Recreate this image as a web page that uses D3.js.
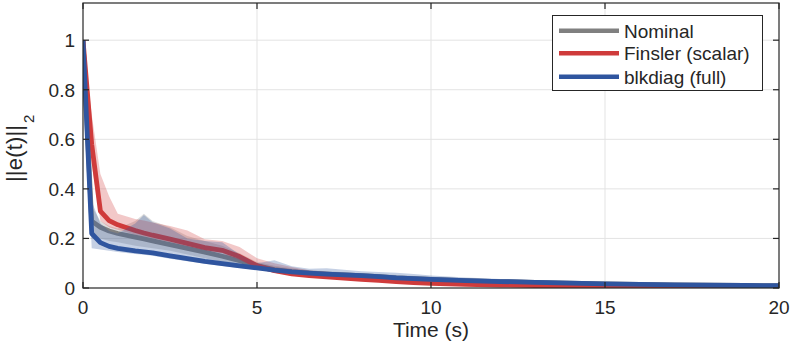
<!DOCTYPE html>
<html><head><meta charset="utf-8">
<script src="https://cdn.jsdelivr.net/npm/d3@7"></script>
<style>
html,body{margin:0;padding:0;background:#fff;}
text{font-family:"Liberation Sans",Arial,Helvetica,sans-serif;fill:#262626;}
</style></head>
<body>
<svg id="chart" width="793" height="349"></svg>
<script>
const time = [0,0.25,0.5,0.75,1,1.5,1.75,2,2.5,3,3.5,4,4.5,5,5.5,6,6.5,7,7.5,8,8.5,9,9.5,10,11,12,13,14,15,16,17,18,19,20];

const nominalMean = [1,.27,.245,.23,.22,.205,.198,.19,.175,.16,.145,.128,.11,.09,.074,.066,.06,.056,.053,.05,.046,.041,.038,.035,.03,.026,.023,.02,.017,.015,.013,.011,.01,.009];
const nominalLow  = [1,.2,.2,.19,.185,.17,.165,.16,.15,.135,.12,.105,.09,.078,.066,.059,.054,.05,.047,.044,.041,.037,.034,.031,.027,.023,.02,.017,.015,.013,.011,.009,.008,.007];
const nominalHigh = [1,.33,.27,.25,.24,.27,.30,.27,.245,.21,.19,.17,.14,.105,.09,.08,.072,.068,.064,.06,.056,.052,.048,.045,.038,.033,.029,.025,.022,.019,.017,.015,.013,.012];

const finslerMean = [1,.58,.31,.272,.255,.232,.222,.213,.197,.18,.163,.152,.127,.09,.07,.057,.05,.045,.04,.035,.031,.026,.022,.019,.015,.012,.01,.008,.006,.005,.004,.004,.003,.003];
const finslerLow  = [1,.5,.27,.245,.235,.215,.208,.2,.185,.168,.152,.14,.112,.08,.062,.05,.044,.039,.034,.03,.026,.022,.019,.016,.012,.01,.008,.006,.005,.004,.003,.002,.002,.002];
const finslerHigh = [1,.7,.46,.37,.3,.278,.272,.264,.25,.232,.197,.19,.165,.12,.1,.085,.072,.066,.06,.054,.048,.043,.038,.034,.027,.022,.018,.015,.013,.011,.009,.008,.007,.006];

const blkdiagMean = [1,.22,.183,.168,.16,.15,.146,.142,.13,.119,.107,.098,.089,.081,.072,.065,.06,.056,.053,.05,.046,.041,.038,.035,.03,.026,.023,.02,.017,.015,.013,.011,.01,.009];
const blkdiagLow  = [1,.16,.155,.15,.145,.137,.134,.13,.118,.108,.098,.089,.081,.073,.066,.06,.055,.051,.048,.045,.042,.038,.035,.032,.027,.024,.021,.018,.015,.013,.011,.009,.008,.007];
const blkdiagHigh = [1,.35,.26,.23,.22,.26,.295,.265,.24,.2,.19,.185,.135,.1,.112,.088,.078,.08,.074,.068,.065,.062,.056,.05,.042,.036,.031,.027,.023,.02,.018,.016,.014,.012];

const seriesNames = ["Nominal","Finsler (scalar)","blkdiag (full)"];
const seriesColors = ["#808080","#cf3b3b","#2f559f"];
const xTicks = [0,5,10,15,20];
const yTicks = [0,0.2,0.4,0.6,0.8,1];
const yTickLabels = ["0","0.2","0.4","0.6","0.8","1"];

const series = [
  {name:seriesNames[0], color:seriesColors[0], mean:nominalMean, lo:nominalLow, hi:nominalHigh},
  {name:seriesNames[1], color:seriesColors[1], mean:finslerMean, lo:finslerLow, hi:finslerHigh},
  {name:seriesNames[2], color:seriesColors[2], mean:blkdiagMean, lo:blkdiagLow, hi:blkdiagHigh}
];

const svg = d3.select("#chart");
const m = {left:83, right:14, top:3, bottom:61};
const W = 793, H = 349;
const x = d3.scaleLinear().domain([0,20]).range([m.left, W-m.right]);
const y = d3.scaleLinear().domain([0,1.15]).range([H-m.bottom, m.top]);

svg.append("defs").append("clipPath").attr("id","clip")
  .append("rect").attr("x",x(0)).attr("y",y(1.15)).attr("width",x(20)-x(0)).attr("height",y(0)-y(1.15));

// grid
const grid = svg.append("g");
grid.selectAll(".gx").data(xTicks.slice(1,-1)).enter().append("line")
  .attr("x1",d=>x(d)).attr("x2",d=>x(d)).attr("y1",y(0)).attr("y2",y(1.15))
  .attr("stroke","#e3e3e3").attr("stroke-width",1);
grid.selectAll(".gy").data(yTicks.slice(1)).enter().append("line")
  .attr("x1",x(0)).attr("x2",x(20)).attr("y1",d=>y(d)).attr("y2",d=>y(d))
  .attr("stroke","#e3e3e3").attr("stroke-width",1);

const plot = svg.append("g").attr("clip-path","url(#clip)");
const area = d3.area().x((d,i)=>x(time[i])).y0(d=>y(d[0])).y1(d=>y(d[1]));
const line = d3.line().x((d,i)=>x(time[i])).y(d=>y(d));

series.forEach(s=>{
  const band = s.lo.map((v,i)=>[v,s.hi[i]]);
  plot.append("path").datum(band).attr("d",area)
    .attr("fill",s.color).attr("fill-opacity",0.28).attr("stroke","none");
  plot.append("path").datum(s.mean).attr("d",line)
    .attr("fill","none").attr("stroke",s.color).attr("stroke-width",4.8)
    .attr("stroke-linejoin","round");
});

// axes box
const axc = "#262626";
const ax = svg.append("g");
ax.append("rect").attr("x",x(0)).attr("y",y(1.15)).attr("width",x(20)-x(0)).attr("height",y(0)-y(1.15))
  .attr("fill","none").attr("stroke",axc).attr("stroke-width",1.2);
const tl = 6;
xTicks.forEach(t=>{
  ax.append("line").attr("x1",x(t)).attr("x2",x(t)).attr("y1",y(0)).attr("y2",y(0)-tl).attr("stroke",axc).attr("stroke-width",1.2);
  ax.append("line").attr("x1",x(t)).attr("x2",x(t)).attr("y1",y(1.15)).attr("y2",y(1.15)+tl).attr("stroke",axc).attr("stroke-width",1.2);
  ax.append("text").attr("x",x(t)).attr("y",y(0)+26).attr("text-anchor","middle")
    .attr("font-size",19).text(t);
});
yTicks.forEach((t,i)=>{
  ax.append("line").attr("x1",x(0)).attr("x2",x(0)+tl).attr("y1",y(t)).attr("y2",y(t)).attr("stroke",axc).attr("stroke-width",1.2);
  ax.append("line").attr("x1",x(20)).attr("x2",x(20)-tl).attr("y1",y(t)).attr("y2",y(t)).attr("stroke",axc).attr("stroke-width",1.2);
  ax.append("text").attr("x",x(0)-8).attr("y",y(t)+7).attr("text-anchor","end")
    .attr("font-size",19).text(yTickLabels[i]);
});

svg.append("text").attr("x",(x(0)+x(20))/2).attr("y",337).attr("text-anchor","middle")
  .attr("font-size",21).text("Time (s)");
svg.append("text").attr("transform","translate(22,182) rotate(-90)")
  .attr("font-size",22).attr("textLength",57).attr("lengthAdjust","spacing").text("||e(t)||");
svg.append("text").attr("transform","translate(34,123) rotate(-90)")
  .attr("font-size",15).text("2");

// legend
const lg = svg.append("g");
lg.append("rect").attr("x",552.5).attr("y",15.5).attr("width",210).attr("height",75)
  .attr("fill","#fff").attr("stroke",axc).attr("stroke-width",1);
const rows = [30.7,53.3,76.7];
series.forEach((s,i)=>{
  lg.append("line").attr("x1",559).attr("x2",619).attr("y1",rows[i]).attr("y2",rows[i])
    .attr("stroke",s.color).attr("stroke-width",4.5);
  lg.append("text").attr("x",624).attr("y",rows[i]+7).attr("font-size",19).text(s.name);
});
</script>
</body></html>
